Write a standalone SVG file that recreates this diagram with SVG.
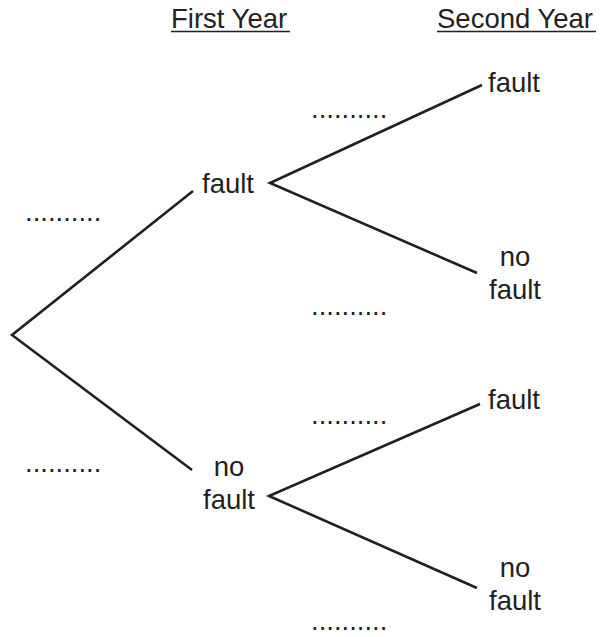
<svg xmlns="http://www.w3.org/2000/svg" width="601" height="637" viewBox="0 0 601 637">
<style>
text{font-family:"Liberation Sans",Arial,sans-serif;font-size:27.5px;fill:#231f20}
.m{text-anchor:middle}
.b{stroke:#231f20;stroke-width:2.6;fill:none;stroke-linecap:butt}
.u{stroke:#231f20;stroke-width:1.5}
</style>
<rect width="601" height="637" fill="#fff"/>
<g id="headers">
<text x="171" y="27.5">First Year</text>
<line class="u" x1="171" y1="31.5" x2="290" y2="31.5"/>
<text x="437" y="27.5">Second Year</text>
<line class="u" x1="437" y1="31.5" x2="596" y2="31.5"/>
</g>
<g id="connectors">
<polyline class="b" points="193,191 12,335 192,470"/>
<polyline class="b" points="482,85 270,183 477,273"/>
<polyline class="b" points="480,404 269,496 477,588"/>
</g>
<g id="node-y1-fault"><text x="228" y="193" class="m">fault</text></g>
<g id="node-y1-nofault"><text x="229" y="476" class="m">no</text><text x="229" y="509" class="m">fault</text></g>
<g id="node-y2-ff"><text x="514" y="92" class="m">fault</text></g>
<g id="node-y2-fn"><text x="515" y="266" class="m">no</text><text x="515" y="299" class="m">fault</text></g>
<g id="node-y2-nf"><text x="514" y="409" class="m">fault</text></g>
<g id="node-y2-nn"><text x="515" y="577" class="m">no</text><text x="515" y="610" class="m">fault</text></g>
<g id="blanks">
<text x="25" y="221">..........</text>
<text x="25" y="472">..........</text>
<text x="311" y="118">..........</text>
<text x="311" y="315">..........</text>
<text x="311" y="424">..........</text>
<text x="311" y="630">..........</text>
</g>
</svg>
